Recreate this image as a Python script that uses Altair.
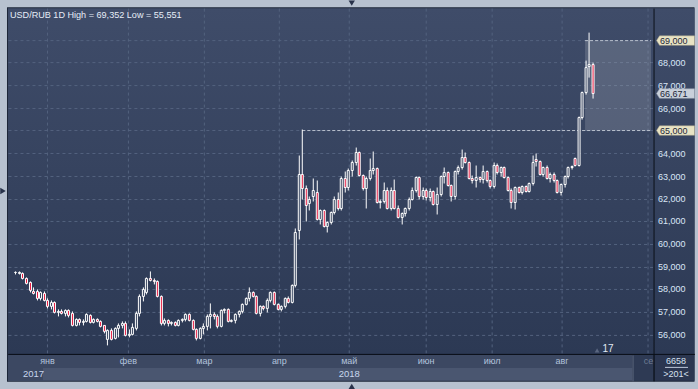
import altair as alt
import pandas as pd

# ---------------- data (price in thousand RUB) -------------
opens = [58.75, 58.74, 58.72, 58.50, 58.32, 57.95, 57.92, 57.62, 57.85, 57.55,
         57.25, 57.45, 57.00, 57.05, 56.95, 57.10, 56.95, 56.45, 56.70, 56.55,
         56.62, 56.88, 56.55, 56.70, 56.62, 56.42, 55.80, 56.20, 55.85, 56.30,
         56.45, 56.50, 56.00, 56.05, 56.30, 56.95, 57.70, 57.90, 58.50, 58.40,
         58.35, 57.70, 56.50, 56.65, 56.50, 56.55, 56.45, 56.65, 56.70, 56.90,
         56.65, 56.25, 55.85, 56.30, 56.40, 56.85, 56.90, 56.85, 56.40, 57.10,
         57.15, 56.60, 56.65, 56.90, 57.05, 57.35, 57.60, 57.90, 57.70, 56.95,
         57.25, 57.20, 57.55, 57.90, 57.35, 57.15, 57.25, 57.60, 57.45, 58.20,
         60.60, 63.10, 62.47, 61.80, 62.10, 62.30, 61.10, 61.50, 60.80, 60.95,
         61.40, 62.00, 61.60, 62.90, 62.50, 63.25, 63.60, 64.07, 63.05, 62.45,
         62.90, 63.25, 63.35, 61.86, 61.90, 62.40, 61.60, 62.40, 61.60, 61.20,
         61.35, 61.60, 62.00, 62.40, 62.96, 62.10, 62.40, 62.05, 62.35, 61.76,
         62.20, 63.00, 63.15, 62.60, 62.10, 63.20, 63.40, 63.85, 63.60, 62.90,
         62.82, 62.95, 62.85, 63.20, 62.80, 62.55, 63.50, 63.15, 63.40, 62.95,
         62.40, 61.86, 62.50, 62.30, 62.55, 62.35, 62.70, 63.75, 63.65, 63.10,
         63.40, 62.90, 63.10, 62.80, 62.30, 62.65, 63.00, 63.40, 63.80, 63.50,
         65.60, 66.70, 67.85, 67.95]
highs = [58.82, 58.80, 58.78, 58.55, 58.38, 58.10, 58.00, 57.95, 57.95, 57.60,
         57.55, 57.50, 57.15, 57.12, 57.15, 57.12, 57.05, 56.75, 56.72, 56.68,
         56.95, 56.92, 56.75, 56.75, 56.65, 56.45, 56.25, 56.30, 56.35, 56.50,
         56.60, 56.60, 56.25, 56.50, 57.05, 57.80, 58.10, 58.55, 58.80, 58.50,
         58.40, 57.75, 56.75, 56.70, 56.60, 56.60, 56.70, 56.75, 56.95, 56.95,
         56.70, 56.30, 56.35, 56.50, 56.90, 57.40, 57.00, 56.90, 57.15, 57.20,
         57.20, 56.70, 56.95, 57.10, 57.40, 57.65, 58.10, 57.95, 57.75, 57.30,
         57.30, 57.60, 57.95, 57.92, 57.40, 57.30, 57.65, 57.70, 58.25, 60.70,
         63.92, 65.05, 62.60, 62.10, 62.90, 62.80, 61.55, 61.55, 61.00, 61.45,
         62.10, 62.30, 63.00, 63.20, 63.35, 63.70, 64.29, 64.10, 63.10, 63.00,
         63.80, 64.10, 63.40, 62.00, 62.75, 62.50, 62.50, 62.85, 61.70, 61.40,
         61.65, 62.05, 62.50, 63.00, 63.00, 62.50, 62.45, 62.45, 62.40, 62.50,
         63.05, 63.40, 63.20, 62.65, 63.25, 63.50, 64.20, 64.05, 63.65, 63.05,
         63.50, 63.00, 63.50, 63.25, 62.85, 63.60, 63.55, 63.45, 63.45, 63.00,
         62.45, 62.55, 62.55, 62.60, 62.60, 62.75, 63.90, 64.00, 63.70, 63.45,
         63.50, 63.15, 63.15, 62.85, 62.70, 63.05, 63.45, 63.50, 63.85, 65.65,
         66.75, 68.10, 69.352, 68.00]
lows = [58.70, 58.68, 58.45, 58.25, 57.90, 57.80, 57.55, 57.55, 57.50, 57.20,
        57.15, 56.95, 56.85, 56.90, 56.85, 56.80, 56.40, 56.40, 56.45, 56.45,
        56.55, 56.50, 56.50, 56.55, 56.35, 56.10, 55.551, 55.75, 55.80, 55.90,
        56.30, 55.95, 55.92, 56.00, 56.20, 56.85, 57.50, 57.80, 58.35, 58.25,
        57.65, 56.45, 56.45, 56.40, 56.42, 56.40, 56.40, 56.55, 56.60, 56.60,
        56.20, 55.75, 55.80, 56.05, 56.20, 56.30, 56.70, 56.30, 56.35, 56.95,
        56.55, 56.55, 56.50, 56.80, 56.95, 57.30, 57.50, 57.65, 56.90, 56.85,
        57.10, 57.00, 57.45, 57.30, 57.10, 57.05, 57.20, 57.40, 57.40, 58.10,
        60.20, 62.00, 61.00, 61.50, 61.90, 61.05, 60.90, 60.75, 60.55, 60.90,
        61.30, 61.50, 61.50, 62.30, 62.40, 63.00, 63.50, 63.00, 62.40, 61.60,
        62.80, 63.10, 61.80, 61.60, 61.80, 61.55, 61.50, 61.55, 61.15, 60.90,
        61.25, 61.50, 61.95, 62.30, 62.00, 62.00, 61.95, 61.90, 61.70, 61.30,
        62.10, 62.70, 62.55, 61.90, 62.00, 63.10, 63.30, 63.55, 62.85, 62.70,
        62.50, 62.75, 62.70, 62.75, 62.45, 62.45, 63.10, 63.00, 62.90, 62.35,
        61.60, 61.55, 62.25, 62.20, 62.30, 62.30, 62.60, 63.45, 63.05, 63.00,
        62.85, 62.75, 62.75, 62.25, 62.15, 62.50, 62.90, 63.30, 63.45, 63.45,
        65.50, 66.60, 67.35, 66.45]
closes = [58.76, 58.75, 58.52, 58.30, 57.97, 57.85, 57.62, 57.88, 57.55, 57.25,
          57.45, 57.02, 57.05, 56.95, 57.10, 56.88, 56.45, 56.70, 56.55, 56.62,
          56.90, 56.55, 56.70, 56.62, 56.40, 56.15, 56.20, 55.80, 56.30, 56.45,
          56.50, 56.00, 56.05, 56.35, 56.95, 57.70, 58.00, 58.50, 58.40, 58.35,
          57.70, 56.50, 56.65, 56.50, 56.55, 56.45, 56.65, 56.70, 56.90, 56.65,
          56.25, 55.85, 56.30, 56.40, 56.85, 56.90, 56.85, 56.40, 57.10, 57.15,
          56.60, 56.65, 56.90, 57.05, 57.35, 57.60, 57.90, 57.70, 56.95, 57.25,
          57.20, 57.55, 57.90, 57.35, 57.15, 57.25, 57.60, 57.45, 58.20, 60.54,
          63.10, 62.47, 61.73, 62.00, 62.40, 61.10, 61.50, 60.80, 60.95, 61.40,
          62.00, 61.60, 62.90, 62.50, 63.25, 63.60, 64.07, 63.05, 62.45, 62.90,
          63.25, 63.35, 61.86, 61.90, 62.40, 61.60, 62.40, 61.60, 61.20, 61.35,
          61.60, 62.00, 62.40, 62.96, 62.10, 62.40, 62.05, 62.35, 61.76, 62.20,
          63.00, 63.15, 62.60, 62.10, 63.20, 63.40, 63.85, 63.60, 62.90, 62.82,
          62.95, 62.85, 63.20, 62.80, 62.55, 63.50, 63.15, 63.40, 62.95, 62.40,
          61.86, 62.50, 62.30, 62.55, 62.35, 62.70, 63.60, 63.65, 63.10, 63.40,
          62.90, 63.10, 62.80, 62.30, 62.65, 63.00, 63.40, 63.45, 63.50, 65.60,
          66.70, 67.80, 67.95, 66.671]
n = min(len(opens), len(highs), len(lows), len(closes))

price_ticks = [56, 57, 58, 59, 60, 61, 62, 63, 64, 66, 67, 68]
price_labels = ["56,000", "57,000", "58,000", "59,000", "60,000", "61,000", "62,000",
                "63,000", "64,000", "66,000", "67,000", "68,000"]
grid_prices = [56, 57, 58, 59, 60, 61, 62, 63, 64, 65, 66, 67, 68, 69]
month_names = ["янв", "фев", "мар", "апр", "май", "июн", "июл", "авг"]
month_pos = [8.96, 31.66, 53.18, 74.48, 94.16, 115.86, 134.49, 154.24]
sep_pos = 178.53
year_names = ["2017", "2018"]
year_pos = [4.9, 94.16]
level_vals = [65.0, 69.0]
level_labels = ["65,000", "69,000"]
level_start = [81, 160.64]
level_end = 179.28
last_price = 66.671
last_label = "66,671"
title_text = "USD/RUB 1D High = 69,352 Low = 55,551"

# ---------------- tables ----------------
candles = pd.DataFrame({"i": list(range(n)), "o": opens[:n], "h": highs[:n],
                        "l": lows[:n], "c": closes[:n]})
ticks = pd.DataFrame({"p": price_ticks, "t": price_labels})
gridp = pd.DataFrame({"p": grid_prices})
months = pd.DataFrame({"m": month_pos, "t": month_names})
grid_v = pd.DataFrame({"m": month_pos + [sep_pos]})
years = pd.DataFrame({"m": year_pos, "t": year_names})
levels = pd.DataFrame({"p": level_vals, "x1": level_start, "x2": [level_end] * 2,
                       "t": level_labels})
box = pd.DataFrame({"x1": [level_start[1]], "x2": [level_end],
                    "y1": [level_vals[0]], "y2": [level_vals[1]]})
lastdf = pd.DataFrame({"p": [last_price], "t": [last_label]})
one = pd.DataFrame({"a": [1]})

xs = alt.Scale(domain=[-2.9207, 191.2448], nice=False, zero=False, round=True)
ys = alt.Scale(domain=[53.6123, 70.7489], nice=False, zero=False, round=True)
FONT = "Liberation Sans"


def panel(x0, x1, y0, y1, color, opacity=1.0):
    return alt.Chart(one).mark_rect(fill=color, opacity=opacity).encode(
        x=alt.value(x0 - 0.5), x2=alt.value(x1 - 0.5),
        y=alt.value(y0 - 0.5), y2=alt.value(y1 - 0.5))


def hline(x0, x1, row, color):
    return alt.Chart(one).mark_rule(color=color, strokeWidth=1).encode(
        x=alt.value(x0), x2=alt.value(x1), y=alt.value(row))


def vline(col, y0, y1, color):
    return alt.Chart(one).mark_rule(color=color, strokeWidth=1).encode(
        x=alt.value(col), y=alt.value(y0), y2=alt.value(y1))


def label(txt, x, y, color, size=9, align="center", weight="normal"):
    return alt.Chart(one).mark_text(text=txt, color=color, fontSize=size, font=FONT,
                                    align=align, baseline="middle",
                                    fontWeight=weight).encode(
        x=alt.value(x), y=alt.value(y))


def tri(shape, x, y, color, size=30):
    return alt.Chart(one).mark_point(shape=shape, filled=True, fill=color,
                                     size=size, opacity=1, strokeWidth=0).encode(
        x=alt.value(x), y=alt.value(y))


grad = alt.LinearGradient(gradient="linear",
                          stops=[alt.GradientStop(color="#3f4c69", offset=0),
                                 alt.GradientStop(color="#2c3954", offset=1)],
                          x1=0, x2=0, y1=0, y2=1)

bg_border = panel(7, 695, 7, 382, "#1d2638")
bg_plot = alt.Chart(one).mark_rect(fill=grad).encode(
    x=alt.value(7.5), x2=alt.value(694.5), y=alt.value(7.5), y2=alt.value(353.5))
month_strip = panel(8, 633, 355, 368, "#3c4862")
year_strip = panel(8, 633, 368, 381, "#4a5670")
year_2017 = panel(8, 43, 368, 381, "#3c4862")
se_box = panel(633, 654, 355, 381, "#2e3a54")
se_edge = vline(633, 355, 381, "#5d6880")
br_box = panel(655, 695, 355, 381, "#2b3650")
line_h = hline(8, 695, 354, "#0b0f18")
line_v = vline(654, 8, 381, "#0b0f18")

grid_h = alt.Chart(gridp).mark_rule(color="#53627e", strokeWidth=1, strokeDash=[3, 3]).encode(
    y=alt.Y("p:Q", scale=ys, axis=None), x=alt.value(8), x2=alt.value(653))
grid_vl = alt.Chart(grid_v).mark_rule(color="#53627e", strokeWidth=1, strokeDash=[3, 3]).encode(
    x=alt.X("m:Q", scale=xs, axis=None), y=alt.value(8), y2=alt.value(353))

shade = alt.Chart(box).mark_rect(fill="#ffffff", opacity=0.15).encode(
    x=alt.X("x1:Q", scale=xs, axis=None), x2="x2:Q",
    y=alt.Y("y1:Q", scale=ys, axis=None), y2="y2:Q")
level_lines = alt.Chart(levels).mark_rule(color="#b9c0cd", strokeWidth=1, strokeDash=[3, 2]).encode(
    x=alt.X("x1:Q", scale=xs, axis=None), x2="x2:Q",
    y=alt.Y("p:Q", scale=ys, axis=None))

wicks = alt.Chart(candles).mark_rule(color="#ffffff", strokeWidth=1).encode(
    x=alt.X("i:Q", scale=xs, axis=None),
    y=alt.Y("l:Q", scale=ys, axis=None), y2="h:Q")
bodies = alt.Chart(candles).mark_bar(size=2, stroke="#ffffff", strokeWidth=1).encode(
    x=alt.X("i:Q", scale=xs, axis=None),
    y=alt.Y("o:Q", scale=ys, axis=None), y2="c:Q",
    fill=alt.condition("datum.c < datum.o", alt.value("#e5163d"), alt.value("#34415c")))

tick_text = alt.Chart(ticks).mark_text(color="#d9e5f6", fontSize=9, font=FONT,
                                       align="left", baseline="middle").encode(
    x=alt.value(658), y=alt.Y("p:Q", scale=ys, axis=None), text="t:N")

box_path = "M-1,0 L-0.84,-0.25 L1,-0.25 L1,0.25 L-0.84,0.25 Z"
level_boxes = alt.Chart(levels).mark_point(shape=box_path, filled=True, fill="#e8e3c4",
                                           stroke="#a9a48a", strokeWidth=0.5,
                                           size=1444, opacity=1).encode(
    x=alt.value(675.5), y=alt.Y("p:Q", scale=ys, axis=None))
level_text = alt.Chart(levels).mark_text(color="#1c2638", fontSize=9, font=FONT,
                                         align="left", baseline="middle").encode(
    x=alt.value(660), y=alt.Y("p:Q", scale=ys, axis=None), text="t:N")
last_box = alt.Chart(lastdf).mark_point(shape=box_path, filled=True, fill="#c9d0db",
                                        stroke="#9aa3b2", strokeWidth=0.5,
                                        size=1444, opacity=1).encode(
    x=alt.value(675.5), y=alt.Y("p:Q", scale=ys, axis=None))
last_text = alt.Chart(lastdf).mark_text(color="#1c2638", fontSize=9, font=FONT,
                                        align="left", baseline="middle").encode(
    x=alt.value(660), y=alt.Y("p:Q", scale=ys, axis=None), text="t:N")

month_text = alt.Chart(months).mark_text(color="#b3c3dc", fontSize=9, font=FONT,
                                         baseline="middle").encode(
    x=alt.X("m:Q", scale=xs, axis=None), y=alt.value(361), text="t:N")
se_text = label("се", 648.5, 361, "#6d7b93")
year_text = alt.Chart(years).mark_text(color="#c8d6ee", fontSize=9.5, font=FONT,
                                       baseline="middle").encode(
    x=alt.X("m:Q", scale=xs, axis=None), y=alt.value(374), text="t:N")

title = label(title_text, 9.5, 14.5, "#e6edf7", size=9.1, align="left")
t17 = label("17", 608, 349, "#e2e9f4", size=10)
t17_tri = tri("triangle-up", 597, 350, "#5a6680", size=22)
t6658 = label("6658", 676, 361, "#d6e0ef")
t6658_u = hline(665, 688, 367, "#c0cadb")
t201 = label(">201<", 676, 374, "#d6e0ef")

tri_top = tri("triangle-down", 351.5, 2.5, "#28324a", size=40)
tri_left = tri("triangle-right", 2.5, 190.5, "#28324a", size=40)
tri_bot = tri("triangle-up", 351.5, 386, "#28324a", size=40)

chart = alt.layer(
    bg_border, bg_plot, month_strip, year_strip, year_2017, se_box, se_edge, br_box,
    grid_h, grid_vl, shade, level_lines, wicks, bodies,
    line_h, line_v,
    tick_text, level_boxes, level_text, last_box, last_text,
    month_text, se_text, year_text, title, t17, t17_tri, t6658, t6658_u, t201,
    tri_top, tri_left, tri_bot
).properties(
    width=698, height=389, autosize="none",
    padding={"left": 0.5, "top": 0.5, "right": 0, "bottom": 0},
    background="#b7c1cf"
).configure_view(strokeWidth=0)

chart.save("out.html", embed_options={"renderer": "svg", "actions": False})
